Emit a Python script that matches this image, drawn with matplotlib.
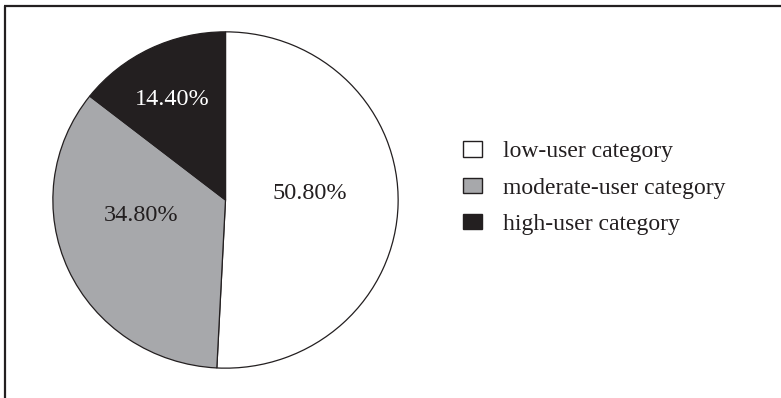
import matplotlib
matplotlib.use("Agg")
import matplotlib.pyplot as plt
from matplotlib.lines import Line2D
from matplotlib.patches import Patch

categories = ["low-user category", "moderate-user category", "high-user category"]
shares = [50.8, 34.8, 14.4]
colors = ["#ffffff", "#a7a8ab", "#231f20"]
label_colors = ["#231f20", "#231f20", "#ffffff"]
# where each percentage sits inside its wedge (data units of the pie axes)
label_pos = [(0.49, 0.04), (-0.49, -0.095), (-0.31, 0.60)]

INK = "#231f20"
W, H = 781, 398

plt.rcParams["font.family"] = ["Liberation Serif", "DejaVu Serif"]

fig = plt.figure(figsize=(W / 100, H / 100), dpi=100)
fig.patch.set_facecolor("white")

# pie box in pixels: x 52..399, y 31..369 (from top)
ax = fig.add_axes([52 / W, (H - 369) / H, 347 / W, 338 / H])
wedges, _ = ax.pie(
    shares,
    colors=colors,
    startangle=90,
    counterclock=False,
    radius=1.0,
    wedgeprops=dict(edgecolor=INK, linewidth=0.9),
)
ax.set_aspect("auto")
ax.set_xlim(-1.005, 1.005)
ax.set_ylim(-1.005, 1.005)
ax.axis("off")

for v, (x, y), c in zip(shares, label_pos, label_colors):
    ax.text(x, y, f"{v:.2f}%", ha="center", va="center", fontsize=17.5, color=c)

# legend rows
handles = [Patch(facecolor=c, edgecolor=INK, linewidth=1.0) for c in colors]
fig.legend(
    handles, categories,
    loc="center left",
    bbox_to_anchor=(463 / W, 1 - 188 / H),
    frameon=False,
    fontsize=17,
    handlelength=0.82,
    handleheight=0.62,
    handletextpad=0.88,
    labelspacing=0.64,
    borderpad=0,
    borderaxespad=0,
    labelcolor=INK,
)

# frame lines along the top and left edges
fig.add_artist(Line2D([3.5 / W, 1], [1 - 6 / H, 1 - 6 / H], color=INK, linewidth=1.6,
                      transform=fig.transFigure, solid_capstyle="butt"))
fig.add_artist(Line2D([4.5 / W, 4.5 / W], [0, 1 - 6 / H], color=INK, linewidth=1.6,
                      transform=fig.transFigure, solid_capstyle="butt"))

fig.savefig("out.png", dpi=100, facecolor="white")
